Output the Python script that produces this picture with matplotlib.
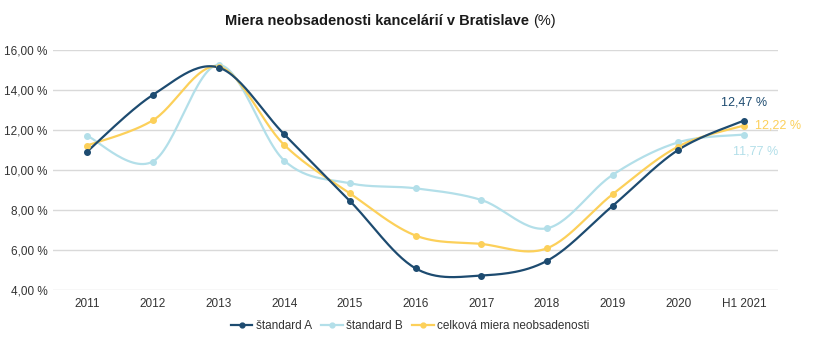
import numpy as np
import matplotlib.pyplot as plt
from matplotlib.lines import Line2D

# Data
years = ['2011', '2012', '2013', '2014', '2015', '2016', '2017', '2018', '2019', '2020', 'H1 2021']
standard_a = [10.92, 13.75, 15.12, 11.78, 8.45, 5.08, 4.72, 5.45, 8.2, 11.0, 12.47]
standard_b = [11.7, 10.42, 15.25, 10.47, 9.33, 9.08, 8.5, 7.08, 9.75, 11.38, 11.77]
celkova = [11.22, 12.48, 15.17, 11.25, 8.83, 6.72, 6.3, 6.08, 8.78, 11.17, 12.22]
y_ticks = [4, 6, 8, 10, 12, 14, 16]

c_a = '#1d4b70'
c_b = '#b3dfe9'
c_c = '#fcd05a'
txt = '#333333'

plt.rcParams['font.family'] = ['Liberation Sans Narrow', 'Liberation Sans', 'DejaVu Sans']


def smooth(x, y, n=30):
    # excel-like smoothed line (bezier through points, catmull-rom control points)
    x = np.asarray(x, float)
    y = np.asarray(y, float)
    px = np.concatenate([[x[0]], x, [x[-1]]])
    py = np.concatenate([[y[0]], y, [y[-1]]])
    xs, ys = [], []
    t = np.linspace(0, 1, n)
    for i in range(1, len(px) - 2):
        p0 = np.array([px[i], py[i]])
        p3 = np.array([px[i + 1], py[i + 1]])
        p1 = p0 + (np.array([px[i + 1], py[i + 1]]) - np.array([px[i - 1], py[i - 1]])) / 6
        p2 = p3 - (np.array([px[i + 2], py[i + 2]]) - np.array([px[i], py[i]])) / 6
        b = ((1 - t) ** 3)[:, None] * p0 + (3 * (1 - t) ** 2 * t)[:, None] * p1 \
            + (3 * (1 - t) * t ** 2)[:, None] * p2 + (t ** 3)[:, None] * p3
        xs.extend(b[:, 0])
        ys.extend(b[:, 1])
    return xs, ys


fig = plt.figure(figsize=(8.29, 3.54), dpi=100)
ax = fig.add_axes([0.064, 0.181, 0.8745, 0.678])

x = np.arange(len(years))
for vals, col in [(standard_b, c_b), (celkova, c_c), (standard_a, c_a)]:
    sx, sy = smooth(x, vals)
    ax.plot(sx, sy, color=col, lw=1.6, clip_on=False, zorder=3)
    ax.plot(x, vals, 'o', color=col, ms=4, clip_on=False, zorder=4)

ax.set_xlim(-0.52, len(years) - 0.48)
ax.set_ylim(4, 16)
ax.set_yticks(y_ticks)
ax.set_yticklabels(['%d,00 %%' % v for v in y_ticks])
ax.set_xticks(x)
ax.set_xticklabels(years)
ax.tick_params(length=0, labelsize=8.5, colors=txt, pad=6)
ax.tick_params(axis='y', pad=4)
ax.grid(axis='y', color='#d9d9d9', lw=1)
ax.set_axisbelow(True)
for s in ax.spines.values():
    s.set_visible(False)

# end labels
ax.annotate('12,47 %', (x[-1], standard_a[-1]), xytext=(0, 9), textcoords='offset points',
            ha='center', va='bottom', color=c_a, fontsize=9)
ax.annotate('12,22 %', (x[-1], celkova[-1]), xytext=(8, 0), textcoords='offset points',
            ha='left', va='center', color=c_c, fontsize=9)
ax.annotate('11,77 %', (x[-1], standard_b[-1]), xytext=(-8, -12), textcoords='offset points',
            ha='left', va='center', color=c_b, fontsize=9)

# title, bold part + normal (%)
t1 = fig.text(0.272, 0.94, 'Miera neobsadenosti kancelárií v Bratislave', fontsize=10.5,
              fontweight='bold', color='#1a1a1a', ha='left', va='center')
fig.canvas.draw()
bb = t1.get_window_extent()
fig.text(bb.x1 / fig.bbox.width + 0.004, 0.94, '(%)', fontsize=10.5, color='#1a1a1a',
         ha='left', va='center')

handles = [Line2D([], [], color=c, lw=1.6, marker='o', ms=3.5) for c in (c_a, c_b, c_c)]
fig.legend(handles, ['štandard A', 'štandard B', 'celková miera neobsadenosti'],
           loc='center', bbox_to_anchor=(0.495, 0.078), ncol=3, frameon=False,
           fontsize=8.5, handlelength=1.8, handletextpad=0.3, columnspacing=0.8,
           labelcolor=txt)

fig.savefig('out.png', dpi=100)
